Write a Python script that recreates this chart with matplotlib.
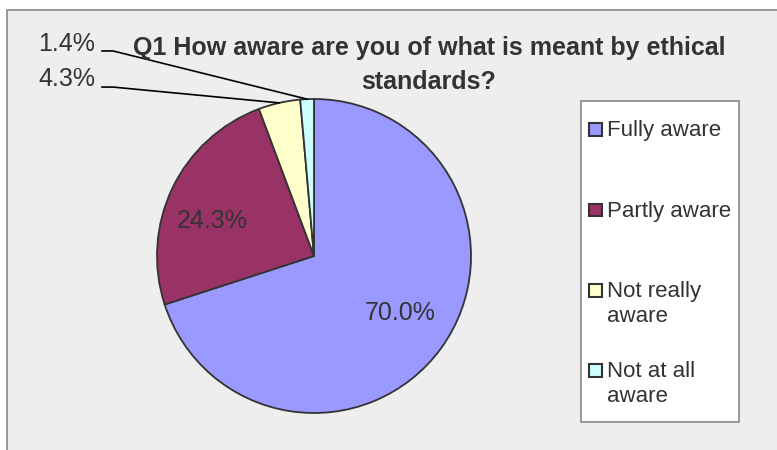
import textwrap
import numpy as np
import matplotlib
matplotlib.use("Agg")
import matplotlib.pyplot as plt
from matplotlib.patches import Rectangle

categories = ["Fully aware", "Partly aware", "Not really aware", "Not at all aware"]
values = [70.0, 24.3, 4.3, 1.4]
colors = ["#9999FF", "#993366", "#FFFFCC", "#CCFFFF"]
title = "Q1 How aware are you of what is meant by ethical\nstandards?"

W, H = 777, 450
plt.rcParams["font.family"] = ["Liberation Sans", "DejaVu Sans"]
TXT = "#333333"

fig = plt.figure(figsize=(W / 100, H / 100), dpi=100)
fig.patch.set_facecolor("white")

def fx(px):
    return px / W

def fy(py):
    return 1 - py / H

# chart area frame
fig.patches.append(Rectangle((fx(7), fy(460)), fx(800) - fx(7), fy(10) - fy(460),
                             transform=fig.transFigure, facecolor="#EEEEEE",
                             edgecolor="#888888", linewidth=1.2, zorder=-10))

# pie axes
cx, cy, r = 314, 256, 157
ax = fig.add_axes([fx(cx - r), fy(cy + r), 2 * r / W, 2 * r / H])
ax.set_zorder(5)
ax.axis("off")
ax.patch.set_alpha(0)

wedges, _ = ax.pie(values, colors=colors, startangle=90, counterclock=False, radius=1,
                   wedgeprops=dict(edgecolor="#333333", linewidth=1.3))
ax.set_xlim(-1, 1)
ax.set_ylim(-1, 1)

# inside labels
inside_pos = {0: (0.548, -0.363), 1: (-0.650, 0.225)}
for i, (x, y) in inside_pos.items():
    ax.text(x, y, f"{values[i]:.1f}%", ha="center", va="center", fontsize=18, color=TXT)

# outside labels with leader lines
outside = {3: (-1.395, 1.352, 1.306), 2: (-1.395, 1.130, 1.076)}
for i, (tx, ty, ly) in outside.items():
    w = wedges[i]
    mid = np.deg2rad((w.theta1 + w.theta2) / 2)
    ex, ey = np.cos(mid), np.sin(mid)
    ax.plot([ex, -1.280, -1.350], [ey, ly, ly], color="black", lw=1.2, clip_on=False)
    ax.text(tx, ty, f"{values[i]:.1f}%", ha="right", va="center", fontsize=18, color=TXT)

# title
fig.text(fx(429), fy(65), title, ha="center", va="center", fontsize=18,
         fontweight="bold", color=TXT, linespacing=1.5, zorder=6)

# legend
lx0, ly0, lx1, ly1 = 581, 101, 739, 422
fig.patches.append(Rectangle((fx(lx0), fy(ly1)), fx(lx1) - fx(lx0), fy(ly0) - fy(ly1),
                             transform=fig.transFigure, facecolor="white",
                             edgecolor="#888888", linewidth=1.2, zorder=1))
row_y = [129, 210, 290, 370]
for cat, col, yy in zip(categories, colors, row_y):
    fig.patches.append(Rectangle((fx(589), fy(yy + 6.5)), 13 / W, 13 / H,
                                 transform=fig.transFigure, facecolor=col,
                                 edgecolor="#333333", linewidth=1.5, zorder=2))
    fig.text(fx(607), fy(yy - 9), textwrap.fill(cat, 12), ha="left", va="top",
             fontsize=16, color=TXT, linespacing=1.25, zorder=3)

fig.savefig("out.png", dpi=100)
